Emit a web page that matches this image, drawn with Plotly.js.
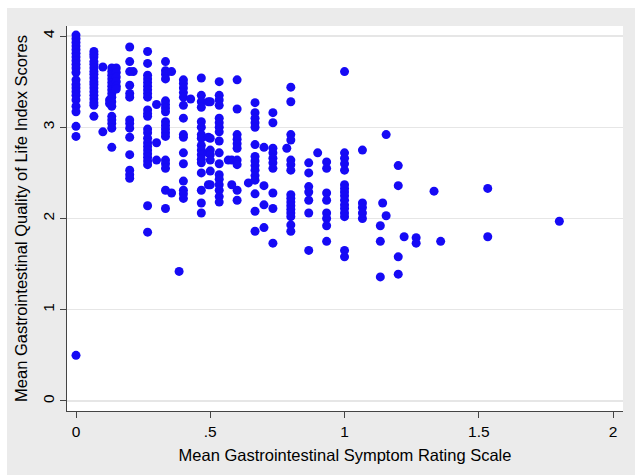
<!DOCTYPE html>
<html>
<head>
<meta charset="utf-8">
<script src="https://cdn.plot.ly/plotly-3.0.1.min.js"></script>
<style>html,body{margin:0;padding:0;background:#fff}#chart{width:635px;height:475px}</style>
</head>
<body>
<div id="chart"></div>
<script>
// x position of each column of points (Mean GSRS)
const gsrsColumns = [
  0, 0.0667, 0.1, 0.125, 0.1333, 0.15, 0.2, 0.213, 0.2667, 0.3, 0.3333, 0.356,
  0.384, 0.4, 0.427, 0.4667, 0.493, 0.5, 0.5333, 0.567, 0.58, 0.6, 0.642, 0.6667,
  0.7, 0.7333, 0.785, 0.8, 0.8667, 0.9, 0.9333, 1.0, 1.0667, 1.1333, 1.142, 1.155,
  1.2, 1.222, 1.2667, 1.3333, 1.358, 1.5333, 1.8
];
// Mean GIQLI values for each column above
const giqliColumns = [
  [4.01,3.97,3.93,3.89,3.85,3.81,3.77,3.73,3.69,3.65,3.6,3.52,3.47,3.43,3.39,3.35,3.3,3.23,3.17,3.01,2.9,0.5],
  [3.83,3.8,3.77,3.72,3.69,3.65,3.61,3.58,3.54,3.5,3.47,3.43,3.39,3.35,3.31,3.27,3.24,3.12],
  [3.66,2.95],
  [3.3,3.26],
  [3.65,3.61,3.57,3.53,3.49,3.45,3.41,3.37,3.33,3.28,3.23,3.12,3.08,3.04,2.99,2.78],
  [3.65,3.6,3.55,3.5,3.45,3.42],
  [3.88,3.72,3.61,3.46,3.37,3.33,3.08,3.04,2.99,2.89,2.7,2.53,2.48,2.44],
  [3.61],
  [3.83,3.7,3.57,3.53,3.49,3.45,3.41,3.37,3.33,3.19,3.15,3.12,2.98,2.94,2.88,2.83,2.79,2.75,2.71,2.67,2.63,2.59,2.14,1.85],
  [3.25,2.83,2.64],
  [3.72,3.62,3.58,3.53,3.29,3.25,3.21,3.17,3.06,3.02,2.98,2.94,2.9,2.64,2.6,2.55,2.31,2.11],
  [3.61,2.28],
  [1.42],
  [3.52,3.48,3.43,3.38,3.33,3.24,3.1,2.92,2.89,2.72,2.6,2.41,2.31,2.27,2.22],
  [3.31],
  [3.54,3.35,3.28,3.22,3.06,3.0,2.92,2.88,2.8,2.75,2.7,2.65,2.61,2.5,2.31,2.17,2.06],
  [3.28,2.89,2.72,2.37],
  [3.28,2.88,2.75,2.7,2.64,2.52,2.37],
  [3.5,3.35,3.3,3.24,3.1,3.05,3.0,2.95,2.85,2.72,2.6,2.48,2.43,2.37,2.31,2.24,2.18],
  [2.64],
  [2.64,2.37],
  [3.52,3.2,2.92,2.87,2.82,2.77,2.64,2.59,2.31,2.2],
  [2.39],
  [3.27,3.16,3.1,3.05,3.0,2.81,2.68,2.63,2.58,2.53,2.47,2.42,2.27,2.08,1.86],
  [2.78,2.36,2.15,1.9],
  [3.16,3.05,2.77,2.72,2.66,2.61,2.55,2.28,2.11,1.73],
  [2.77],
  [3.44,3.28,2.92,2.86,2.64,2.59,2.53,2.26,2.22,2.18,2.14,2.1,2.06,2.02,1.93,1.86],
  [2.61,2.5,2.35,2.29,2.2,2.06,1.65],
  [2.72],
  [2.62,2.55,2.28,2.2,2.06,2.0,1.92,1.75],
  [3.61,2.72,2.66,2.6,2.53,2.37,2.33,2.29,2.25,2.2,2.15,2.11,2.06,2.02,1.65,1.58],
  [2.75,2.17,2.12,2.06,2.0],
  [1.92,1.75,1.36],
  [2.17],
  [2.92,2.03],
  [2.58,2.36,1.58,1.39],
  [1.8],
  [1.79,1.73],
  [2.3],
  [1.75],
  [2.33,1.8],
  [1.97]
];
const xTickVals = [0, 0.5, 1, 1.5, 2];
const xTickText = ["0", ".5", "1", "1.5", "2"];
const yTickVals = [0, 1, 2, 3, 4];
const yTickText = ["0", "1", "2", "3", "4"];

const xs = [], ys = [];
gsrsColumns.forEach((x, i) => giqliColumns[i].forEach(y => { xs.push(x); ys.push(y); }));

const fontFam = '"Liberation Sans", Arial, Helvetica, sans-serif';
const trace = {
  type: 'scatter', mode: 'markers', x: xs, y: ys,
  marker: {color: 'rgb(22,10,245)', size: 9, line: {width: 0}},
  hoverinfo: 'skip'
};
const layout = {
  width: 635, height: 475,
  margin: {l: 67, r: 12, t: 26, b: 64},
  paper_bgcolor: '#ebebeb', plot_bgcolor: '#ffffff',
  showlegend: false,
  font: {family: fontFam, color: '#000', size: 15},
  xaxis: {
    range: [-0.0335, 2.037], tickvals: xTickVals, ticktext: xTickText,
    showgrid: false, zeroline: false, showline: true, linecolor: '#444', linewidth: 1,
    ticks: 'outside', ticklen: 6, tickcolor: '#444', tickwidth: 1,
    tickfont: {family: fontFam, size: 15.5, color: '#000'},
    title: {text: 'Mean Gastrointestinal Symptom Rating Scale', font: {family: fontFam, size: 16.5, color: '#000'}, standoff: 10}
  },
  yaxis: {
    range: [-0.11, 4.11], tickvals: yTickVals, ticktext: yTickText, tickangle: -90,
    showgrid: true, gridcolor: '#e6e6e6', gridwidth: 1.5, zeroline: false,
    showline: true, linecolor: '#444', linewidth: 1,
    ticks: 'outside', ticklen: 6, tickcolor: '#444', tickwidth: 1,
    tickfont: {family: fontFam, size: 15.5, color: '#000'},
    title: {text: 'Mean Gastrointestinal Quality of Life Index Scores', font: {family: fontFam, size: 16.5, color: '#000'}, standoff: 8}
  },
  shapes: [
    {type: 'rect', xref: 'paper', yref: 'paper', x0: -0.1206, x1: -0.1079, y0: -0.3, y1: 1.2, fillcolor: '#ffffff', line: {width: 0}, layer: 'above'},
    {type: 'rect', xref: 'paper', yref: 'paper', x0: -0.13, x1: 1.1, y0: 1.0468, y1: 1.2, fillcolor: '#ffffff', line: {width: 0}, layer: 'above'}
  ]
};
Plotly.newPlot('chart', [trace], layout, {staticPlot: true, displayModeBar: false});
</script>
</body>
</html>
